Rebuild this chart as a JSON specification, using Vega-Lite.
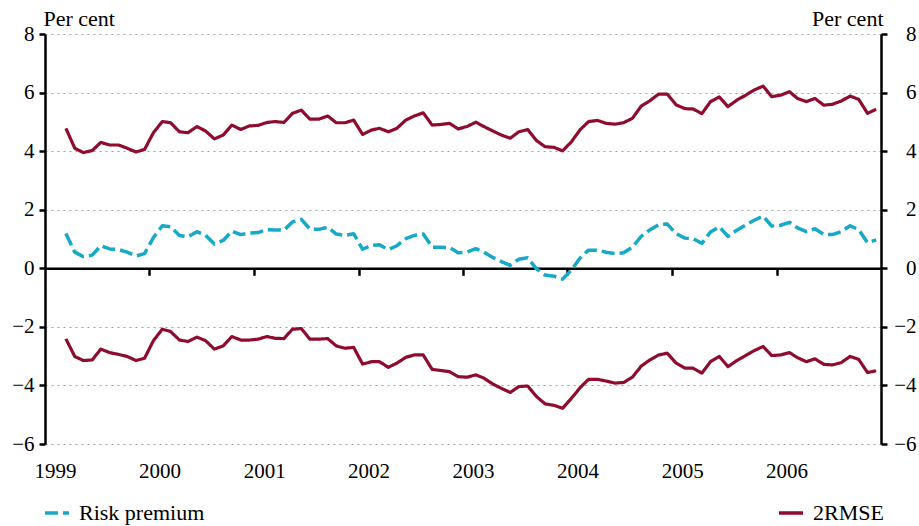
{
  "$schema": "https://vega.github.io/schema/vega-lite/v6.json",
  "width": 836,
  "height": 410,
  "autosize": {"type": "none"},
  "padding": {"left": 45, "top": 34, "right": 38, "bottom": 82},
  "background": "white",
  "config": {
    "view": {"stroke": null},
    "font": "Liberation Serif",
    "axis": {"labelFont": "Liberation Serif", "labelFontSize": 21, "labelColor": "black", "titleFont": "Liberation Serif", "titleFontSize": 22, "titleColor": "black", "titleFontWeight": "normal", "domainColor": "black", "tickColor": "black"},
    "legend": {"labelFont": "Liberation Serif", "labelFontSize": 22, "labelColor": "black", "symbolType": "stroke", "symbolSize": 576, "symbolStrokeWidth": 3.5, "labelOffset": 8}
  },
  "data": {"values": [
    {"d":"1999-03-15","u":4.78,"r":1.19,"l":-2.41},
    {"d":"1999-04-15","u":4.10,"r":0.55,"l":-3.01},
    {"d":"1999-05-15","u":3.95,"r":0.40,"l":-3.15},
    {"d":"1999-06-15","u":4.02,"r":0.45,"l":-3.13},
    {"d":"1999-07-15","u":4.30,"r":0.77,"l":-2.76},
    {"d":"1999-08-15","u":4.21,"r":0.66,"l":-2.88},
    {"d":"1999-09-15","u":4.21,"r":0.64,"l":-2.94},
    {"d":"1999-10-15","u":4.10,"r":0.55,"l":-3.01},
    {"d":"1999-11-15","u":3.97,"r":0.42,"l":-3.15},
    {"d":"1999-12-15","u":4.06,"r":0.50,"l":-3.07},
    {"d":"2000-01-15","u":4.63,"r":1.05,"l":-2.47},
    {"d":"2000-02-15","u":5.01,"r":1.45,"l":-2.08},
    {"d":"2000-03-15","u":4.97,"r":1.42,"l":-2.16},
    {"d":"2000-04-15","u":4.66,"r":1.12,"l":-2.45},
    {"d":"2000-05-15","u":4.63,"r":1.08,"l":-2.50},
    {"d":"2000-06-15","u":4.84,"r":1.25,"l":-2.35},
    {"d":"2000-07-15","u":4.69,"r":1.13,"l":-2.47},
    {"d":"2000-08-15","u":4.42,"r":0.83,"l":-2.76},
    {"d":"2000-09-15","u":4.55,"r":0.95,"l":-2.65},
    {"d":"2000-10-15","u":4.89,"r":1.27,"l":-2.33},
    {"d":"2000-11-15","u":4.74,"r":1.15,"l":-2.45},
    {"d":"2000-12-15","u":4.86,"r":1.20,"l":-2.45},
    {"d":"2001-01-15","u":4.88,"r":1.22,"l":-2.42},
    {"d":"2001-02-15","u":4.98,"r":1.32,"l":-2.33},
    {"d":"2001-03-15","u":5.01,"r":1.31,"l":-2.39},
    {"d":"2001-04-15","u":4.98,"r":1.30,"l":-2.40},
    {"d":"2001-05-15","u":5.29,"r":1.58,"l":-2.08},
    {"d":"2001-06-15","u":5.40,"r":1.67,"l":-2.06},
    {"d":"2001-07-15","u":5.09,"r":1.34,"l":-2.42},
    {"d":"2001-08-15","u":5.09,"r":1.33,"l":-2.42},
    {"d":"2001-09-15","u":5.20,"r":1.40,"l":-2.40},
    {"d":"2001-10-15","u":4.97,"r":1.17,"l":-2.65},
    {"d":"2001-11-15","u":4.97,"r":1.12,"l":-2.73},
    {"d":"2001-12-15","u":5.06,"r":1.18,"l":-2.70},
    {"d":"2002-01-15","u":4.57,"r":0.65,"l":-3.27},
    {"d":"2002-02-15","u":4.72,"r":0.78,"l":-3.19},
    {"d":"2002-03-15","u":4.78,"r":0.80,"l":-3.19},
    {"d":"2002-04-15","u":4.66,"r":0.64,"l":-3.38},
    {"d":"2002-05-15","u":4.78,"r":0.77,"l":-3.24},
    {"d":"2002-06-15","u":5.06,"r":1.01,"l":-3.04},
    {"d":"2002-07-15","u":5.20,"r":1.12,"l":-2.96},
    {"d":"2002-08-15","u":5.31,"r":1.17,"l":-2.96},
    {"d":"2002-09-15","u":4.89,"r":0.72,"l":-3.45},
    {"d":"2002-10-15","u":4.91,"r":0.72,"l":-3.49},
    {"d":"2002-11-15","u":4.95,"r":0.71,"l":-3.53},
    {"d":"2002-12-15","u":4.76,"r":0.53,"l":-3.70},
    {"d":"2003-01-15","u":4.84,"r":0.55,"l":-3.72},
    {"d":"2003-02-15","u":4.99,"r":0.67,"l":-3.64},
    {"d":"2003-03-15","u":4.84,"r":0.55,"l":-3.75},
    {"d":"2003-04-15","u":4.69,"r":0.37,"l":-3.95},
    {"d":"2003-05-15","u":4.55,"r":0.23,"l":-4.10},
    {"d":"2003-06-15","u":4.44,"r":0.10,"l":-4.24},
    {"d":"2003-07-15","u":4.66,"r":0.31,"l":-4.04},
    {"d":"2003-08-15","u":4.74,"r":0.36,"l":-4.02},
    {"d":"2003-09-15","u":4.36,"r":-0.02,"l":-4.38},
    {"d":"2003-10-15","u":4.15,"r":-0.23,"l":-4.63},
    {"d":"2003-11-15","u":4.13,"r":-0.27,"l":-4.68},
    {"d":"2003-12-15","u":4.01,"r":-0.37,"l":-4.78},
    {"d":"2004-01-15","u":4.32,"r":-0.06,"l":-4.44},
    {"d":"2004-02-15","u":4.74,"r":0.36,"l":-4.07},
    {"d":"2004-03-15","u":5.01,"r":0.62,"l":-3.79},
    {"d":"2004-04-15","u":5.05,"r":0.62,"l":-3.79},
    {"d":"2004-05-15","u":4.95,"r":0.55,"l":-3.85},
    {"d":"2004-06-15","u":4.92,"r":0.50,"l":-3.92},
    {"d":"2004-07-15","u":4.97,"r":0.53,"l":-3.90},
    {"d":"2004-08-15","u":5.12,"r":0.72,"l":-3.72},
    {"d":"2004-09-15","u":5.54,"r":1.09,"l":-3.34},
    {"d":"2004-10-15","u":5.72,"r":1.31,"l":-3.13},
    {"d":"2004-11-15","u":5.95,"r":1.49,"l":-2.96},
    {"d":"2004-12-15","u":5.95,"r":1.51,"l":-2.90},
    {"d":"2005-01-15","u":5.58,"r":1.18,"l":-3.24},
    {"d":"2005-02-15","u":5.45,"r":1.03,"l":-3.41},
    {"d":"2005-03-15","u":5.44,"r":1.01,"l":-3.41},
    {"d":"2005-04-15","u":5.28,"r":0.85,"l":-3.58},
    {"d":"2005-05-15","u":5.69,"r":1.24,"l":-3.19},
    {"d":"2005-06-15","u":5.85,"r":1.42,"l":-3.01},
    {"d":"2005-07-15","u":5.52,"r":1.09,"l":-3.36},
    {"d":"2005-08-15","u":5.74,"r":1.30,"l":-3.15},
    {"d":"2005-09-15","u":5.91,"r":1.48,"l":-2.98},
    {"d":"2005-10-15","u":6.09,"r":1.64,"l":-2.81},
    {"d":"2005-11-15","u":6.22,"r":1.78,"l":-2.67},
    {"d":"2005-12-15","u":5.86,"r":1.44,"l":-2.98},
    {"d":"2006-01-15","u":5.91,"r":1.47,"l":-2.96},
    {"d":"2006-02-15","u":6.03,"r":1.57,"l":-2.88},
    {"d":"2006-03-15","u":5.80,"r":1.38,"l":-3.05},
    {"d":"2006-04-15","u":5.69,"r":1.25,"l":-3.19},
    {"d":"2006-05-15","u":5.80,"r":1.35,"l":-3.09},
    {"d":"2006-06-15","u":5.57,"r":1.16,"l":-3.28},
    {"d":"2006-07-15","u":5.60,"r":1.15,"l":-3.30},
    {"d":"2006-08-15","u":5.71,"r":1.25,"l":-3.22},
    {"d":"2006-09-15","u":5.88,"r":1.45,"l":-3.01},
    {"d":"2006-10-15","u":5.77,"r":1.32,"l":-3.11},
    {"d":"2006-11-15","u":5.29,"r":0.87,"l":-3.56},
    {"d":"2006-12-15","u":5.43,"r":0.97,"l":-3.50}
  ]},
  "layer": [
    {
      "transform": [{"fold": ["u", "l"], "as": ["band", "v"]}],
      "mark": {"type": "line", "strokeWidth": 3.2, "strokeJoin": "round"},
      "encoding": {
        "x": {"field": "d", "type": "temporal",
          "scale": {"type": "utc", "domain": [{"year": 1999, "month": 1, "date": 1, "utc": true}, {"year": 2007, "month": 1, "date": 1, "utc": true}]},
          "axis": {"orient": "bottom", "offset": 0, "title": null, "format": "%Y", "domain": false, "ticks": false, "tickSize": 0, "grid": false, "labelPadding": 16, "labelBaseline": "top", "labelOffset": 10, "labelFlush": false, "labelOverlap": false, "labelFont": "Liberation Serif", "labelFontSize": 21,
            "values": [{"year": 1999, "month": 1, "date": 1, "utc": true}, {"year": 2000, "month": 1, "date": 1, "utc": true}, {"year": 2001, "month": 1, "date": 1, "utc": true}, {"year": 2002, "month": 1, "date": 1, "utc": true}, {"year": 2003, "month": 1, "date": 1, "utc": true}, {"year": 2004, "month": 1, "date": 1, "utc": true}, {"year": 2005, "month": 1, "date": 1, "utc": true}, {"year": 2006, "month": 1, "date": 1, "utc": true}]}},
        "y": {"field": "v", "type": "quantitative", "scale": {"domain": [-6, 8], "nice": false, "zero": false},
          "axis": {"orient": "left", "values": [-6, -4, -2, 0, 2, 4, 6, 8], "grid": true, "gridDash": [2, 4], "gridColor": "#a0a0a0", "gridWidth": 1.2, "domainWidth": 2.5, "tickSize": 6, "tickWidth": 2.5, "labelPadding": 5, "labelFont": "Liberation Serif", "labelFontSize": 21, "title": "Per cent", "titleFont": "Liberation Serif", "titleFontSize": 22, "titleFontWeight": "normal", "titleAngle": 0, "titleX": -2, "titleY": -9, "titleAlign": "left", "titleBaseline": "alphabetic"}},
        "detail": {"field": "band"},
        "color": {"datum": "2RMSE", "type": "nominal", "scale": {"domain": ["Risk premium", "2RMSE"], "range": ["#18A8C8", "#8F0C2E"]},
          "legend": {"title": null, "orient": "none", "legendX": -2, "legendY": 465, "direction": "horizontal", "columns": 2, "columnPadding": 567, "labelFont": "Liberation Serif", "labelFontSize": 22}},
        "strokeDash": {"datum": "2RMSE", "type": "nominal", "scale": {"domain": ["Risk premium", "2RMSE"], "range": [[13, 5], [1, 0]]},
          "legend": {"title": null, "orient": "none", "legendX": -2, "legendY": 465, "direction": "horizontal", "columns": 2, "columnPadding": 567, "labelFont": "Liberation Serif", "labelFontSize": 22}}
      }
    },
    {
      "mark": {"type": "line", "strokeWidth": 3.5, "strokeJoin": "round"},
      "encoding": {
        "x": {"field": "d", "type": "temporal",
          "axis": {"orient": "bottom", "title": null, "offset": -175.7, "labels": false, "grid": false, "domain": true, "domainWidth": 2.5, "ticks": true, "tickSize": 7, "tickWidth": 2.5,
            "values": [{"year": 2000, "month": 1, "date": 1, "utc": true}, {"year": 2001, "month": 1, "date": 1, "utc": true}, {"year": 2002, "month": 1, "date": 1, "utc": true}, {"year": 2003, "month": 1, "date": 1, "utc": true}, {"year": 2004, "month": 1, "date": 1, "utc": true}, {"year": 2005, "month": 1, "date": 1, "utc": true}, {"year": 2006, "month": 1, "date": 1, "utc": true}]}},
        "y": {"field": "r", "type": "quantitative",
          "axis": {"orient": "right", "values": [-6, -4, -2, 0, 2, 4, 6, 8], "grid": false, "domainWidth": 2.5, "tickSize": 6, "tickWidth": 2.5, "labelPadding": 29, "labelAlign": "right", "labelFont": "Liberation Serif", "labelFontSize": 21, "title": "Per cent", "titleFont": "Liberation Serif", "titleFontSize": 22, "titleFontWeight": "normal", "titleAngle": 0, "titleX": 2, "titleY": -9, "titleAlign": "right", "titleBaseline": "alphabetic"}},
        "color": {"datum": "Risk premium", "type": "nominal"},
        "strokeDash": {"datum": "Risk premium", "type": "nominal"}
      }
    }
  ],
  "resolve": {"axis": {"x": "independent", "y": "independent"}}
}
